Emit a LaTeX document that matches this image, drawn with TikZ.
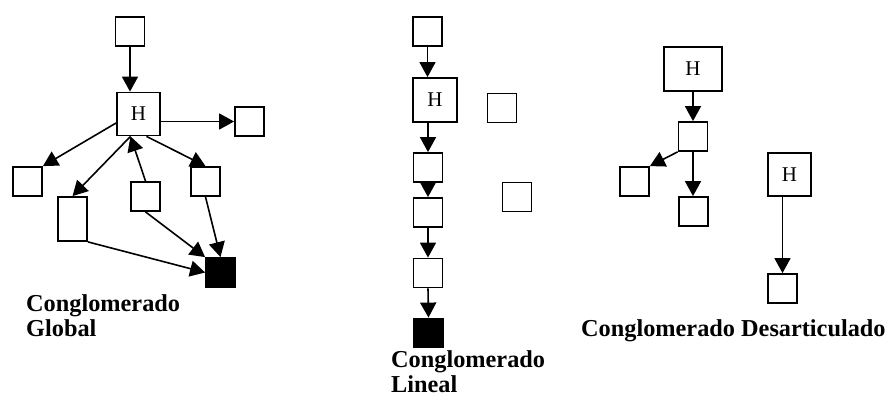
\documentclass[tikz,border=0pt]{standalone}
\usepackage{fontspec}
\setmainfont{Liberation Serif}
\usetikzlibrary{arrows.meta}
\tikzset{
    plain-box/.style = {draw, line width=1.8pt, rectangle, inner sep=0pt, minimum width=29pt, minimum height=29pt},
    head-box/.style = {plain-box, minimum width=43pt, minimum height=43pt, font=\fontsize{21}{21}\selectfont},
    end-box/.style = {plain-box, fill=black},
    link/.style = {line width=1.6pt, -{Triangle[length=15pt, width=16pt]}},
    group-title/.style = {inner sep=0pt, align=left, font=\fontsize{24.3}{25}\selectfont\bfseries},
}

\begin{document}
\begin{tikzpicture}[x=1pt, y=-1pt]
\useasboundingbox (0,0) rectangle (887,398);

% global
\node [plain-box] (gtop) at (130,31.5) {};
\node [head-box] (gH) at (138.5,114) {H};
\node [plain-box] (gright) at (249.5,121.5) {};
\node [plain-box] (gleft) at (27.5,181.5) {};
\node [plain-box, minimum height=44pt] (gtall) at (72.5,219) {};
\node [plain-box] (gmid) at (145.5,196.5) {};
\node [plain-box] (gside) at (205.5,181.5) {};
\node [end-box] (gsink) at (220.5,272.5) {};
\draw [link] (gtop.south) -- (gtop.south |- gH.north);
\draw [link] (gH.east |- gright.west) -- (gright.west);
\draw [link] ([yshift=-9pt]gH.west) -- (gleft.north east);
\draw [link] ([xshift=-8pt]gH.south) -- (gtall.north);
\draw [link] (gmid.north) -- ([xshift=-8pt]gH.south);
\draw [link] ([xshift=8pt]gH.south) -- (gside.north);
\draw [link] (gmid.south) -- (gsink.north west);
\draw [link] (gside.south) -- (gsink.north);
\draw [link] (gtall.south east) -- (gsink.west);
\node [group-title, anchor=base west] (gtitle) at (26,337) {Conglomerado\\Global};

% lineal
\node [plain-box] (ltop) at (427.5,31.5) {};
\node [head-box, minimum width=44pt, minimum height=44pt] (lH) at (435,100) {H};
\node [plain-box] (lside1) at (502,108) {};
\node [plain-box] (l2) at (428,167.5) {};
\node [plain-box] (l3) at (428,212.5) {};
\node [plain-box] (lside2) at (517,197) {};
\node [plain-box] (l4) at (428,273) {};
\node [end-box] (lsink) at (428.5,333) {};
\draw [link] (ltop.south) -- (ltop.south |- lH.north);
\draw [link] (l2.north |- lH.south) -- (l2.north);
\draw [link] (l2.south) -- (l3.north);
\draw [link] (l3.south) -- (l4.north);
\draw [link] (l4.south) -- (lsink.north);
\node [group-title, anchor=base west] (ltitle) at (391,392) {Conglomerado\\Lineal};

% desarticulado
\node [head-box, minimum width=58pt, minimum height=44pt] (dH) at (693,69) {H\hspace{14pt}};
\node [plain-box] (d1) at (693,136.5) {};
\node [plain-box] (dleft) at (634.5,181.5) {};
\node [plain-box] (d2) at (693.5,211.5) {};
\node [head-box] (dH2) at (789.5,174.5) {H};
\node [plain-box] (d3) at (782.5,288.5) {};
\draw [link] (dH.south) -- (d1.north);
\draw [link] (d1.south west) -- (dleft.north east);
\draw [link] (d1.south) -- (d1.south |- d2.north);
\draw [link] (d3.north |- dH2.south) -- (d3.north);
\node [group-title, anchor=base west] (dtitle) at (581,337) {Conglomerado Desarticulado};
\end{tikzpicture}
\end{document}
